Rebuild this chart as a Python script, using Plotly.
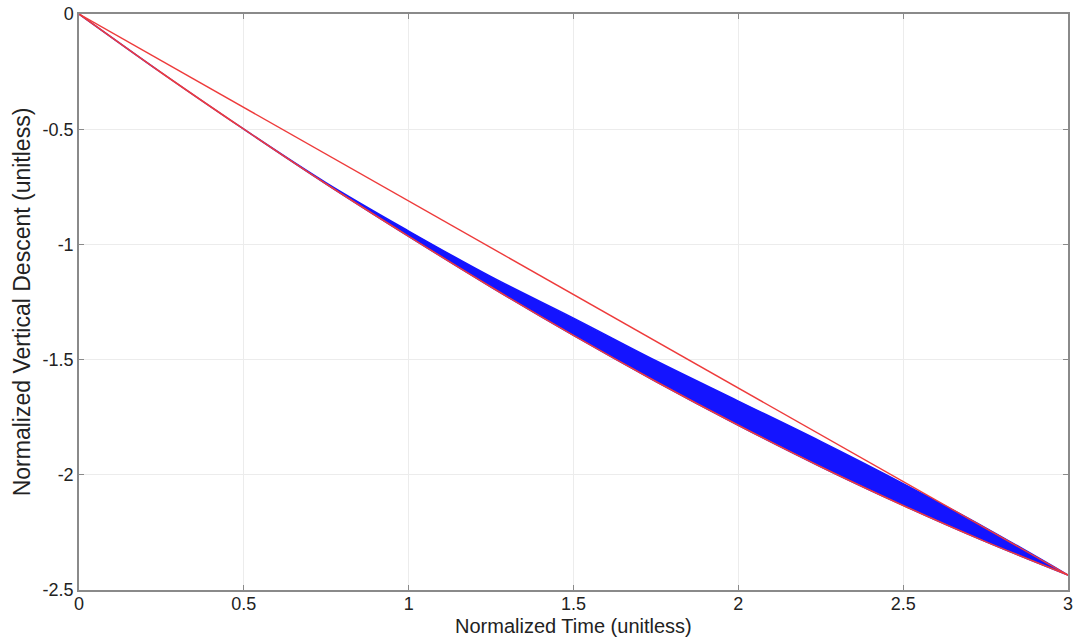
import plotly.graph_objects as go

# Normalized time grid (x) for the curves
time_pts = [0, 0.25, 0.5, 0.75, 1.0, 1.25, 1.5, 1.75, 2.0, 2.25, 2.5, 2.75, 3.0]

# Lower red curve (fastest descent)
lower_curve = [0, -0.255, -0.50, -0.738, -0.965, -1.185, -1.395, -1.595, -1.785, -1.965, -2.133, -2.29, -2.435]

# Upper edge of the blue band of trajectories
band_upper = [0, -0.255, -0.50, -0.733, -0.942, -1.14, -1.32, -1.505, -1.68, -1.855, -2.038, -2.23, -2.435]

# Straight red line endpoints
straight_x = [0, 3.0]
straight_y = [0, -2.435]

# Axis ticks
x_ticks = [0, 0.5, 1, 1.5, 2, 2.5, 3]
x_ticktext = ["0", "0.5", "1", "1.5", "2", "2.5", "3"]
y_ticks = [0, -0.5, -1, -1.5, -2, -2.5]
y_ticktext = ["0", "-0.5", "-1", "-1.5", "-2", "-2.5"]

x_title = "Normalized Time (unitless)"
y_title = "Normalized Vertical Descent (unitless)"

RED = "#ee3b3b"
BLUE = "#1414ff"
FONT = "Liberation Sans, Arial, sans-serif"

fig = go.Figure()

# Blue band as a filled polygon
fig.add_trace(go.Scatter(
    x=time_pts + time_pts[::-1],
    y=band_upper + lower_curve[::-1],
    fill="toself", fillcolor=BLUE, mode="lines",
    line=dict(color=BLUE, width=1.5, shape="spline"),
    hoverinfo="skip", showlegend=False,
))

fig.add_trace(go.Scatter(
    x=time_pts, y=lower_curve, mode="lines",
    line=dict(color=RED, width=1.6, shape="spline"), showlegend=False,
))

fig.add_trace(go.Scatter(
    x=straight_x, y=straight_y, mode="lines",
    line=dict(color=RED, width=1.4), showlegend=False,
))

axis_common = dict(
    showgrid=True, gridcolor="#ececec", gridwidth=1,
    showline=True, linecolor="#8a8a8a", linewidth=1.5, mirror="ticks",
    ticks="inside", ticklen=5, tickcolor="#8a8a8a",
    zeroline=False,
    tickfont=dict(family=FONT, size=18, color="#222"),
    ticklabeloverflow="allow",
    automargin=False,
)

fig.update_layout(
    width=1073, height=637,
    margin=dict(l=79, r=5, t=14, b=47),
    paper_bgcolor="white", plot_bgcolor="white",
    xaxis=dict(range=[0, 3], tickvals=x_ticks, ticktext=x_ticktext,
               ticklabelstandoff=-3, **axis_common),
    yaxis=dict(range=[-2.5, 0], tickvals=y_ticks, ticktext=y_ticktext,
               title=dict(text=y_title, standoff=6,
                          font=dict(family=FONT, size=23, color="#222")),
               **axis_common),
    annotations=[dict(
        text=x_title, xref="paper", yref="paper", x=0.5, y=0,
        xanchor="center", yanchor="top", yshift=-24, showarrow=False,
        borderpad=0,
        font=dict(family=FONT, size=20, color="#222"),
    )],
)

fig.write_html("out.html")
